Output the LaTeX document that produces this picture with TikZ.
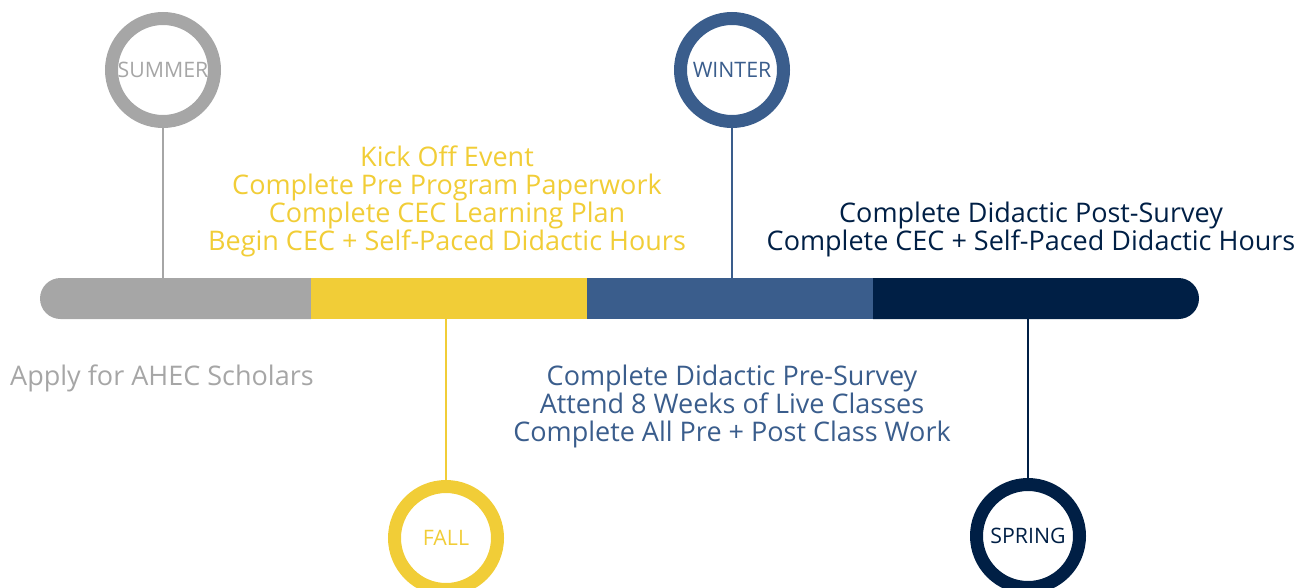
\documentclass[tikz,border=0pt]{standalone}
\usepackage{fontspec}
\setmainfont{Open Sans}
\usetikzlibrary{positioning, shapes.misc}

\definecolor{sumgray}{HTML}{A6A6A6}
\definecolor{fallyellow}{HTML}{F1CD37}
\definecolor{winblue}{HTML}{3A5D8C}
\definecolor{sprnavy}{HTML}{001F45}

\tikzset{
  season/.style={circle, draw=#1, line width=13pt, minimum size=103pt,
    inner sep=0pt, text=#1, font=\fontsize{21.3}{24}\selectfont},
  seg/.style={fill=#1, draw=none, inner sep=0pt, outer sep=0pt,
    minimum height=41pt},
  tick/.style={draw=#1, line width=1.8pt},
  todo/.style={text=#1, align=center, inner sep=0pt,
    font=\fontsize{27}{28}\selectfont}
}

\begin{document}
\begin{tikzpicture}[x=1pt, y=-1pt]
\useasboundingbox (0,0) rectangle (1311,587);

% the bar
\node[seg=sumgray, rounded rectangle, rounded rectangle right arc=none,
  minimum width=271pt] (sumseg) at (175.5,298.5) {};
\node[seg=fallyellow, minimum width=276pt] (fallseg) at (449,298.5) {};
\node[seg=winblue, minimum width=286pt] (winseg) at (730,298.5) {};
\node[seg=sprnavy, rounded rectangle, rounded rectangle left arc=none,
  minimum width=326pt] (sprseg) at (1036,298.5) {};

% seasons
\node[season=sumgray] (summer) at (163,70) {SUMMER};
\node[season=winblue] (winter) at (732,70) {WINTER};
\node[season=fallyellow] (fall) at (446,538) {FALL};
\node[season=sprnavy] (spring) at (1028,536) {SPRING};

\draw[tick=sumgray] (summer) -- (summer |- sumseg.north);
\draw[tick=winblue] (winter) -- (winter |- winseg.north);
\draw[tick=fallyellow] (fall) -- (fall |- fallseg.south);
\draw[tick=sprnavy] (spring) -- (spring |- sprseg.south);

% what happens when
\node[todo=sumgray, anchor=west] (sumtxt) at (10,378)
  {Apply for AHEC Scholars};
\node[todo=fallyellow] (falltxt) at (447,201)
  {Kick Off Event\\Complete Pre Program Paperwork\\Complete CEC Learning Plan\\Begin CEC + Self-Paced Didactic Hours};
\node[todo=winblue] (wintxt) at (732,406)
  {Complete Didactic Pre-Survey\\Attend 8 Weeks of Live Classes\\Complete All Pre + Post Class Work};
\node[todo=sprnavy] (sprtxt) at (1031,229)
  {Complete Didactic Post-Survey\\Complete CEC + Self-Paced Didactic Hours};
\end{tikzpicture}
\end{document}
